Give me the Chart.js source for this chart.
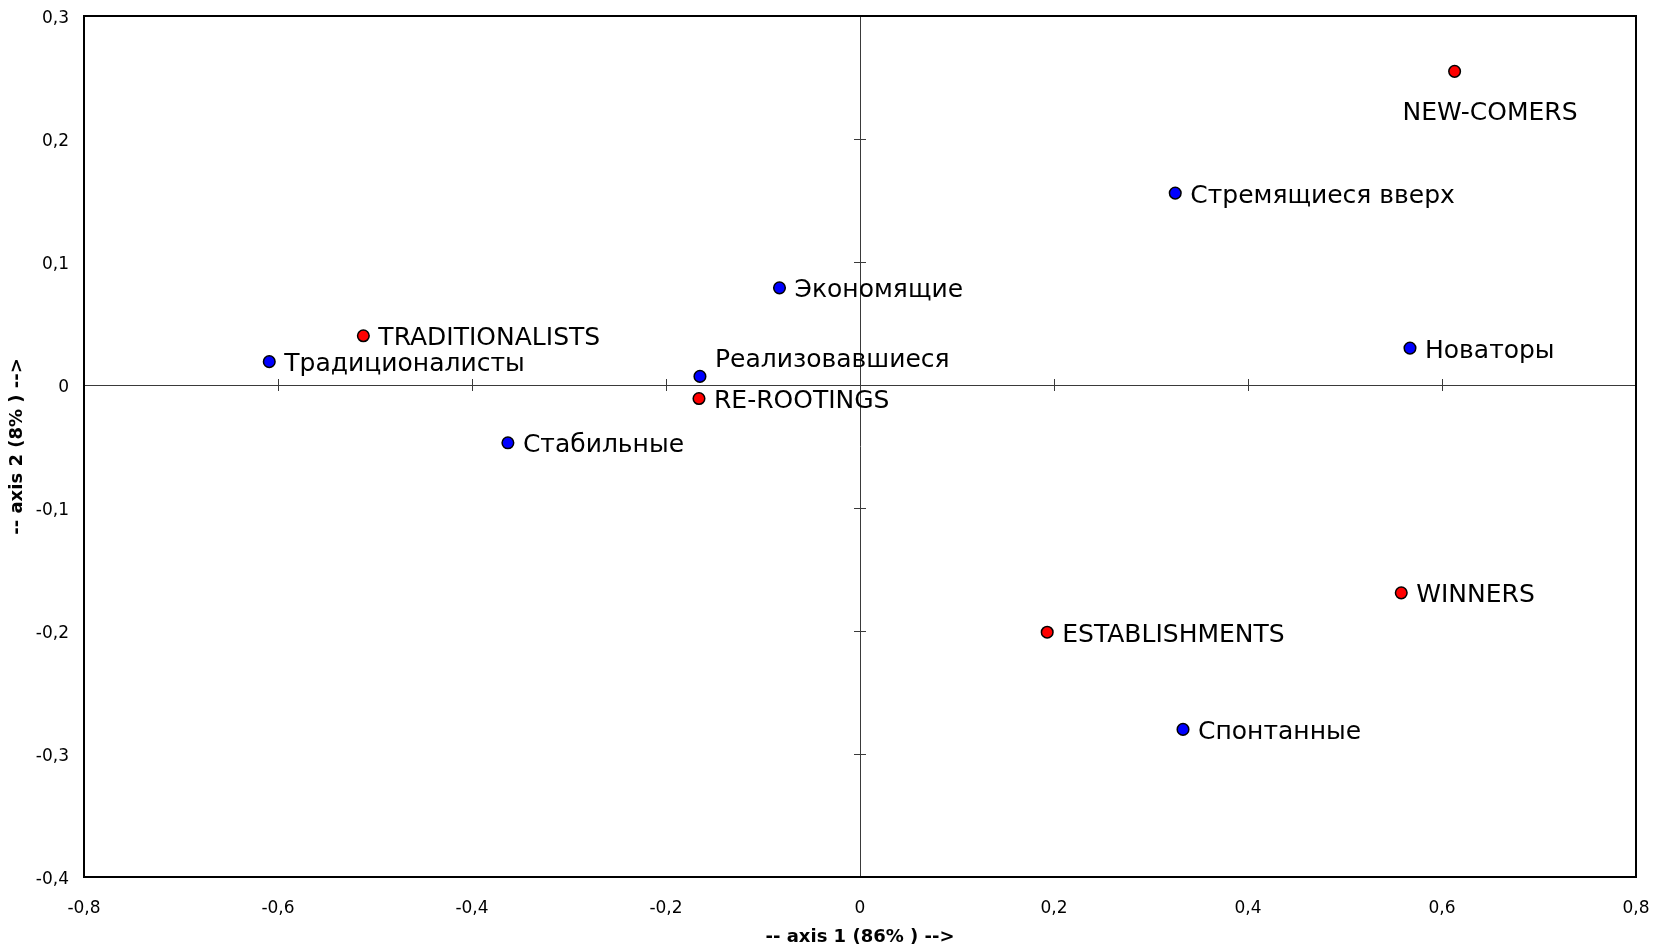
<!DOCTYPE html>
<html>
<head>
<meta charset="utf-8">
<script src="https://cdn.jsdelivr.net/npm/chart.js@4/dist/chart.umd.min.js"></script>
<style>
  html, body { margin: 0; padding: 0; background: #fff; }
  #wrap { width: 1663px; height: 948px; }
</style>
</head>
<body>
<div id="wrap"><canvas id="c" width="1663" height="948"></canvas></div>
<script>
// ---- Data ----
const groupLabels = ['NEW-COMERS', 'TRADITIONALISTS', 'RE-ROOTINGS', 'WINNERS', 'ESTABLISHMENTS'];
const groupX = [0.613, -0.512, -0.166, 0.558, 0.193];
const groupY = [0.255, 0.040, -0.011, -0.169, -0.201];

const typeLabels = ['Стремящиеся вверх', 'Экономящие', 'Традиционалисты', 'Реализовавшиеся', 'Стабильные', 'Новаторы', 'Спонтанные'];
const typeX = [0.325, -0.083, -0.609, -0.165, -0.363, 0.567, 0.333];
const typeY = [0.156, 0.079, 0.019, 0.007, -0.047, 0.030, -0.280];

const xTicks = [-0.8, -0.6, -0.4, -0.2, 0, 0.2, 0.4, 0.6, 0.8];
const yTicks = [-0.4, -0.3, -0.2, -0.1, 0, 0.1, 0.2, 0.3];
const xTitle = '-- axis 1 (86% ) -->';
const yTitle = '-- axis 2 (8% ) -->';

// ---- Label placement (style, not data) ----
const labelOffset = {
  'NEW-COMERS': [-52, 42],
  'Реализовавшиеся': [15, -16]
};
const defaultOffset = [15, 3];

function fmt(v) {
  const r = Math.round(v * 10) / 10;
  if (r === 0) return '0';
  return r.toFixed(1).replace('.', ',');
}

const frameAndAxes = {
  id: 'frameAndAxes',
  beforeDatasetsDraw(chart) {
    const ctx = chart.ctx;
    const a = chart.chartArea;
    const xs = chart.scales.x, ys = chart.scales.y;
    const x0 = xs.getPixelForValue(0), y0 = ys.getPixelForValue(0);
    ctx.save();
    ctx.strokeStyle = '#3a3a3a';
    ctx.lineWidth = 1;
    ctx.beginPath();
    ctx.moveTo(a.left, Math.round(y0) + 0.5); ctx.lineTo(a.right, Math.round(y0) + 0.5);
    ctx.moveTo(Math.round(x0) + 0.5, a.top); ctx.lineTo(Math.round(x0) + 0.5, a.bottom);
    xTicks.forEach(v => {
      const px = Math.round(xs.getPixelForValue(v)) + 0.5;
      ctx.moveTo(px, y0 - 6); ctx.lineTo(px, y0 + 6);
    });
    yTicks.forEach(v => {
      const py = Math.round(ys.getPixelForValue(v)) + 0.5;
      ctx.moveTo(x0 - 6, py); ctx.lineTo(x0 + 6, py);
    });
    ctx.stroke();
    ctx.strokeStyle = '#000';
    ctx.lineWidth = 2;
    ctx.strokeRect(a.left, a.top, a.right - a.left, a.bottom - a.top);
    ctx.restore();
  },
  afterDatasetsDraw(chart) {
    const ctx = chart.ctx;
    ctx.save();
    ctx.font = '25px "DejaVu Sans"';
    ctx.fillStyle = '#000';
    ctx.textAlign = 'left';
    ctx.textBaseline = 'middle';
    chart.data.datasets.forEach((ds, i) => {
      const meta = chart.getDatasetMeta(i);
      meta.data.forEach((pt, j) => {
        const name = ds.pointNames[j];
        const off = labelOffset[name] || defaultOffset;
        ctx.fillText(name, pt.x + off[0], pt.y + off[1]);
      });
    });
    ctx.restore();
  }
};

new Chart(document.getElementById('c'), {
  type: 'scatter',
  data: {
    datasets: [
      {
        label: 'groups',
        pointNames: groupLabels,
        data: groupX.map((x, i) => ({ x: x, y: groupY[i] })),
        backgroundColor: '#ff0000',
        borderColor: '#000000',
        borderWidth: 1.5,
        pointRadius: 5.8,
        pointHoverRadius: 5.8
      },
      {
        label: 'types',
        pointNames: typeLabels,
        data: typeX.map((x, i) => ({ x: x, y: typeY[i] })),
        backgroundColor: '#0000ff',
        borderColor: '#000000',
        borderWidth: 1.5,
        pointRadius: 5.8,
        pointHoverRadius: 5.8
      }
    ]
  },
  options: {
    responsive: false,
    animation: false,
    layout: { padding: { top: 16, right: 27, left: 0, bottom: 0 } },
    plugins: { legend: { display: false }, tooltip: { enabled: false } },
    scales: {
      x: {
        type: 'linear',
        min: -0.8, max: 0.8,
        afterBuildTicks(s) { s.ticks = xTicks.map(v => ({ value: v })); },
        afterFit(s) { s.height = 71; s.paddingLeft = 0; s.paddingRight = 0; },
        grid: { display: false, drawTicks: false },
        border: { display: false },
        ticks: {
          callback: v => fmt(v),
          color: '#000',
          font: { family: 'DejaVu Sans', size: 17 },
          padding: 21,
          maxRotation: 0,
          autoSkip: false
        },
        title: {
          display: true,
          text: xTitle,
          color: '#000',
          font: { family: 'DejaVu Sans', size: 18, weight: 'bold' },
          padding: { top: 0, bottom: 0 }
        }
      },
      y: {
        type: 'linear',
        min: -0.4, max: 0.3,
        afterBuildTicks(s) { s.ticks = yTicks.map(v => ({ value: v })); },
        afterFit(s) { s.width = 84; s.paddingTop = 0; s.paddingBottom = 0; },
        grid: { display: false, drawTicks: false },
        border: { display: false },
        ticks: {
          callback: v => fmt(v),
          color: '#000',
          font: { family: 'DejaVu Sans', size: 17 },
          padding: 15,
          labelOffset: 3,
          autoSkip: false
        },
        title: {
          display: true,
          text: yTitle,
          color: '#000',
          font: { family: 'DejaVu Sans', size: 18, weight: 'bold' },
          padding: { top: 7, bottom: 0 }
        }
      }
    }
  },
  plugins: [frameAndAxes]
});
</script>
</body>
</html>
